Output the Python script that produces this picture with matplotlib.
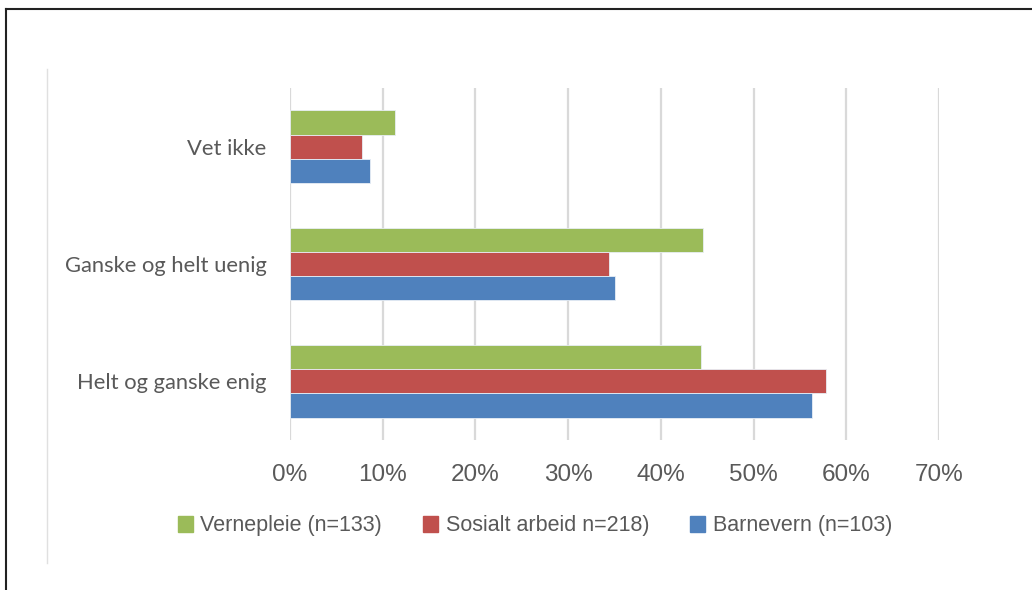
import numpy as np
import matplotlib
matplotlib.use('agg')
import matplotlib.pyplot as plt
from matplotlib.lines import Line2D
from matplotlib.ticker import PercentFormatter

# categories bottom -> top
categories = ['Helt og ganske enig', 'Ganske og helt uenig', 'Vet ikke']
series = ['Vernepleie (n=133)', 'Sosialt arbeid n=218)', 'Barnevern (n=103)']
vernepleie = [44.3, 44.5, 11.3]
sosialt = [57.8, 34.4, 7.8]
barnevern = [56.3, 35.1, 8.6]
colors = ['#9BBB59', '#C0504D', '#4F81BD']
xticks = [0, 10, 20, 30, 40, 50, 60, 70]

fig = plt.figure(figsize=(10.32, 5.90), dpi=100)
ax = fig.add_axes((290/1032, 1-440/590, 649/1032, 352/590))

y = np.arange(len(categories))
h = 0.207
for k, (vals, c) in enumerate(zip([vernepleie, sosialt, barnevern], colors)):
    # green on top within each group, blue at bottom
    ax.barh(y + (1 - k) * h, vals, height=h, color=c, edgecolor='#e8eef5',
            linewidth=0.6, label=series[k], zorder=3)

ax.set_xlim(0, 70)
ax.set_ylim(-0.5, 2.5)
ax.set_xticks(xticks)
ax.xaxis.set_major_formatter(PercentFormatter(decimals=0))
ax.set_yticks(y)
ax.set_yticklabels(categories, family='Lato', fontsize=15.8, color='#595959')
for lab in ax.get_xticklabels():
    lab.set_family('Liberation Sans')
    lab.set_fontsize(17.5)
    lab.set_color('#595959')
ax.tick_params(axis='both', length=0)
ax.tick_params(axis='x', pad=17)
ax.tick_params(axis='y', pad=17)
ax.grid(axis='x', color='#d9d9d9', linewidth=1.6, zorder=0)
for s in ax.spines.values():
    s.set_visible(False)

handles = [plt.Rectangle((0, 0), 1, 1, color=c) for c in colors]
leg = fig.legend(handles, series, loc='center', bbox_to_anchor=(535/1032, 1-526/590),
                 ncol=3, frameon=False, handlelength=0.7, handleheight=0.7,
                 handletextpad=0.35, columnspacing=1.9,
                 prop={'family': 'Liberation Sans', 'size': 15.5})
for t in leg.get_texts():
    t.set_color('#595959')

# frame lines from the screenshot
fig.add_artist(Line2D([6/1032, 1], [1-9/590, 1-9/590], color='#222222', linewidth=1.5))
fig.add_artist(Line2D([6/1032, 6/1032], [0, 1-9/590], color='#222222', linewidth=1.5))
fig.add_artist(Line2D([47/1032, 47/1032], [1-563/590, 1-69/590], color='#e0e0e0', linewidth=1))

fig.savefig('out.png', dpi=100)
